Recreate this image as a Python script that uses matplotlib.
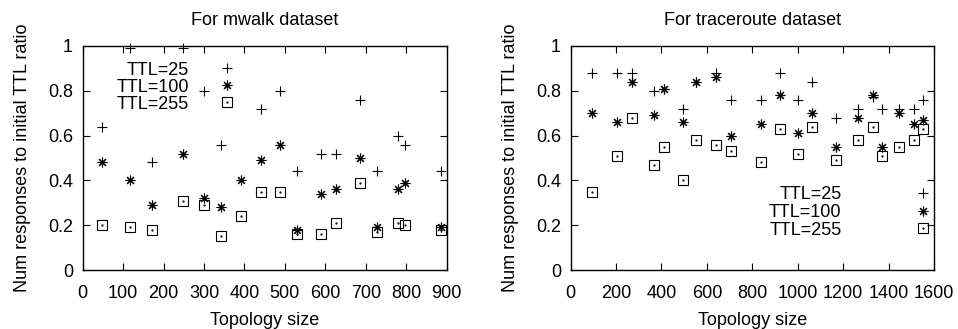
import numpy as np
import matplotlib
matplotlib.use('Agg')
import matplotlib.pyplot as plt

plt.rcParams['font.family'] = ['Liberation Sans', 'DejaVu Sans']
plt.rcParams['font.size'] = 13

# mwalk dataset
mwalk_size = [49, 118, 171, 248, 299, 342, 391, 441, 488, 530, 590, 627, 685, 728, 779, 798, 887]
mwalk_ttl25 = [0.64, 0.99, 0.48, 0.99, 0.80, 0.56, np.nan, 0.72, 0.80, 0.44, 0.52, 0.52, 0.76, 0.44, 0.60, 0.56, 0.44]
mwalk_ttl100 = [0.48, 0.40, 0.29, 0.52, 0.32, 0.28, 0.40, 0.49, 0.56, 0.18, 0.34, 0.36, 0.50, 0.19, 0.36, 0.39, 0.19]
mwalk_ttl255 = [0.20, 0.19, 0.18, 0.31, 0.29, 0.15, 0.24, 0.35, 0.35, 0.16, 0.16, 0.21, 0.39, 0.17, 0.21, 0.20, 0.18]

# traceroute dataset
trace_size = [95, 202, 271, 368, 409, 495, 551, 639, 708, 837, 920, 1000, 1064, 1169, 1264, 1330, 1371, 1444, 1510, 1553]
trace_ttl25 = [0.88, 0.88, 0.88, 0.80, 0.81, 0.72, 0.84, 0.88, 0.76, 0.76, 0.88, 0.76, 0.84, 0.68, 0.72, 0.77, 0.72, 0.72, 0.72, 0.76]
trace_ttl100 = [0.70, 0.66, 0.84, 0.69, 0.81, 0.66, 0.84, 0.86, 0.60, 0.65, 0.78, 0.61, 0.70, 0.55, 0.68, 0.78, 0.55, 0.70, 0.65, 0.67]
trace_ttl255 = [0.35, 0.51, 0.68, 0.47, 0.55, 0.40, 0.58, 0.56, 0.53, 0.48, 0.63, 0.52, 0.64, 0.49, 0.58, 0.64, 0.51, 0.55, 0.58, 0.63]

labels = ['TTL=25', 'TTL=100', 'TTL=255']


def draw_panel(ax, x, t25, t100, t255, title, xmax, xstep):
    h1, = ax.plot(x, t25, linestyle='none', marker='+', markersize=7,
                  markeredgewidth=0.8, color='black', clip_on=False)
    h2, = ax.plot(x, t100, linestyle='none', marker=(8, 2, 0), markersize=7,
                  markeredgewidth=0.8, color='black')
    h3, = ax.plot(x, t255, linestyle='none', marker='s', markersize=7,
                  markeredgewidth=0.8, markerfacecolor='none', color='black')
    h4, = ax.plot(x, t255, linestyle='none', marker='.', markersize=1.2,
                  color='black')
    ax.set_xlim(0, xmax)
    ax.set_ylim(0, 1)
    ax.set_xticks(np.arange(0, xmax + 1, xstep))
    ax.set_yticks([0, 0.2, 0.4, 0.6, 0.8, 1])
    ax.set_yticklabels(['0', '0.2', '0.4', '0.6', '0.8', '1'])
    ax.tick_params(direction='in', length=5, width=0.8, top=True, right=True)
    ax.tick_params(axis='x', pad=11)
    ax.tick_params(axis='y', pad=7)
    for s in ax.spines.values():
        s.set_linewidth(1.0)
    ax.set_title(title, fontsize=13, pad=15)
    ax.set_xlabel('Topology size', labelpad=7)
    ax.set_ylabel('Num responses to initial TTL ratio', labelpad=12)
    return [h1, h2, (h3, h4)]


fig = plt.figure(figsize=(9.58, 3.29), dpi=100)
ax1 = fig.add_axes([0.0863, 0.1793, 0.380, 0.681])
ax2 = fig.add_axes([0.5957, 0.1793, 0.3792, 0.681])

hs = draw_panel(ax1, mwalk_size, mwalk_ttl25, mwalk_ttl100, mwalk_ttl255,
                'For mwalk dataset', 900, 100)
ax1.legend(hs, labels, loc='upper right', bbox_to_anchor=(0.445, 0.93),
           markerfirst=False, frameon=False, handlelength=2, handletextpad=1.1,
           labelspacing=0.0, borderpad=0, borderaxespad=0, fontsize=13)

hs = draw_panel(ax2, trace_size, trace_ttl25, trace_ttl100, trace_ttl255,
                'For traceroute dataset', 1600, 200)
ax2.legend(hs, labels, loc='upper right', bbox_to_anchor=(1.019, 0.375),
           markerfirst=False, frameon=False, handlelength=2, handletextpad=3.5,
           labelspacing=0.05, borderpad=0, borderaxespad=0, fontsize=13)

fig.savefig('out.png', dpi=100)
